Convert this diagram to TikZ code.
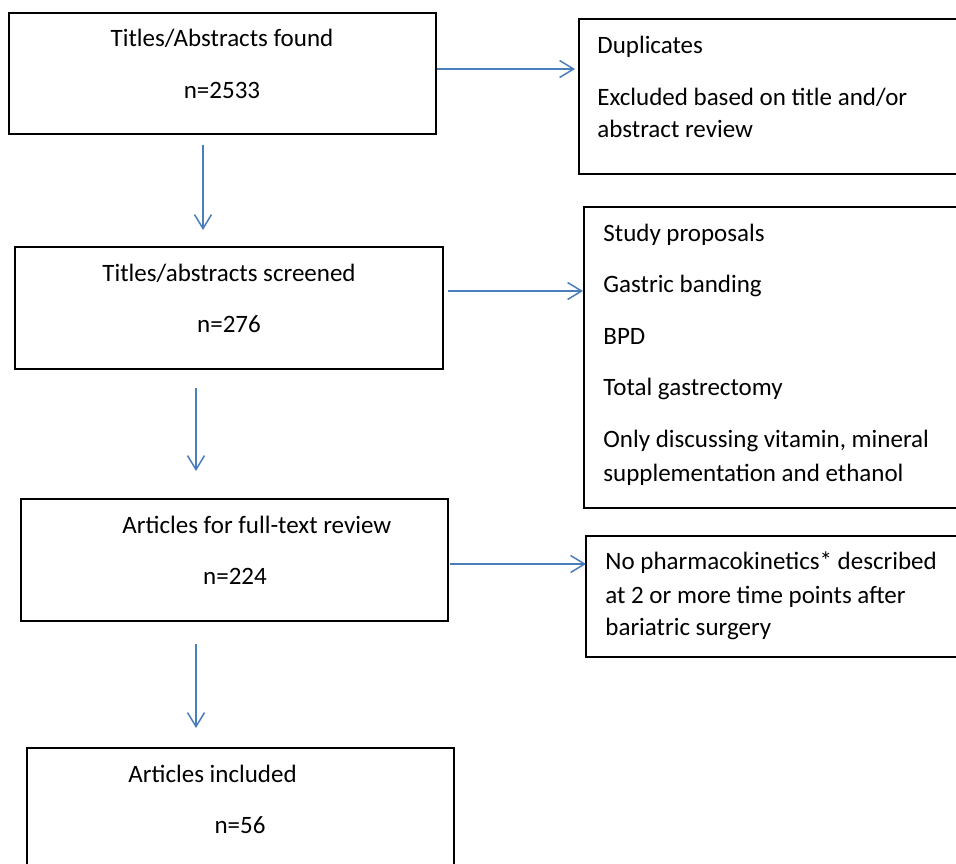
\documentclass[tikz,border=0pt]{standalone}
\usepackage{fontspec}
\setmainfont{Carlito}
\usepackage{xcolor}
\usepackage{tikz}
\usetikzlibrary{arrows.meta,calc}
\usetikzlibrary{positioning}

\definecolor{arrowblue}{HTML}{4A7EBB}

\begin{document}
\begin{tikzpicture}[x=0.5pt, y=-0.5pt,
        box/.style={draw, line width=1pt, anchor=north west, inner sep=0pt, outer sep=0pt},
        flow/.style={draw=arrowblue, line width=0.75pt, -{Straight Barb[length=7pt,width=8.5pt]}},
        txt/.style={inner sep=0pt, font=\fontsize{12.5}{15}\selectfont}]
            \useasboundingbox (0,0) rectangle (956,863);
            \clip (0,0) rectangle (956,863);
            % main column
            \node[box, minimum width=213.5pt, minimum height=60.5pt] at (9,13) (found) {};
            \node[box, minimum width=214pt, minimum height=61pt] at (15,247) (screened) {};
            \node[box, minimum width=213.5pt, minimum height=61pt] at (21,499) (fulltext) {};
            \node[box, minimum width=213.5pt, minimum height=80pt] at (27,748) (included) {};
            % exclusion boxes
            \node[box, minimum width=195.5pt, minimum height=77.5pt] at (579,19) (dup) {};
            \node[box, minimum width=193pt, minimum height=150.5pt] at (584,207) (study) {};
            \node[box, minimum width=192pt, minimum height=60.5pt] at (586,536) (pk) {};
            % texts
            \node[txt, anchor=base] at (222,46) (found1) {Titles/Abstracts found};
            \node[txt, anchor=base] at (222,98) (found2) {n=2533};
            \node[txt, anchor=base] at (229,281) (screened1) {Titles/abstracts screened};
            \node[txt, anchor=base] at (229,332) (screened2) {n=276};
            \node[txt, anchor=base west] at (122,533) (fulltext1) {Articles for full-text review};
            \node[txt, anchor=base] at (235,584) (fulltext2) {n=224};
            \node[txt, anchor=base west] at (128,782) (included1) {Articles included};
            \node[txt, anchor=base] at (240,833) (included2) {n=56};
            \node[txt, anchor=base west] at (597,53) (dup1) {Duplicates};
            \node[txt, anchor=base west] at (597,105) (dup2) {Excluded based on title and/or};
            \node[txt, anchor=base west] at (597,137) (dup3) {abstract review};
            \node[txt, anchor=base west] at (603,241) (study1) {Study proposals};
            \node[txt, anchor=base west] at (603,292) (study2) {Gastric banding};
            \node[txt, anchor=base west] at (603,344) (study3) {BPD};
            \node[txt, anchor=base west] at (603,395) (study4) {Total gastrectomy};
            \node[txt, anchor=base west] at (603,447) (study5) {Only discussing vitamin, mineral};
            \node[txt, anchor=base west] at (603,481) (study6) {supplementation and ethanol};
            \node[txt, anchor=base west] at (605,569) (pk1) {No pharmacokinetics* described};
            \node[txt, anchor=base west] at (605,603) (pk2) {at 2 or more time points after};
            \node[txt, anchor=base west] at (605,635) (pk3) {bariatric surgery};
            % arrows down
            \coordinate (down1) at ($(found.south)+(-19.5,11)$);
            \coordinate (down2) at ($(screened.south)+(-33,19)$);
            \coordinate (down3) at ($(fulltext.south)+(-38.5,23)$);
            \draw[flow, shorten >=8.5pt] (down1) -- (down1 |- screened.north);
            \draw[flow, shorten >=14pt] (down2) -- (down2 |- fulltext.north);
            \draw[flow, shorten >=10pt] (down3) -- (down3 |- included.north);
            % arrows right
            \draw[flow, shorten <=0.5pt, shorten >=2pt] ([yshift=2.25pt]found.east) -- ([yshift=2.25pt]found.east -| dup.west);
            \draw[flow, shorten <=2.5pt, shorten >=0.5pt] ([yshift=8.5pt]screened.east) -- ([yshift=8.5pt]screened.east -| study.west);
            \draw[flow, shorten <=1pt] ([yshift=-2pt]fulltext.east) -- ([yshift=-2pt]fulltext.east -| pk.west);
        \end{tikzpicture}
\end{document}
